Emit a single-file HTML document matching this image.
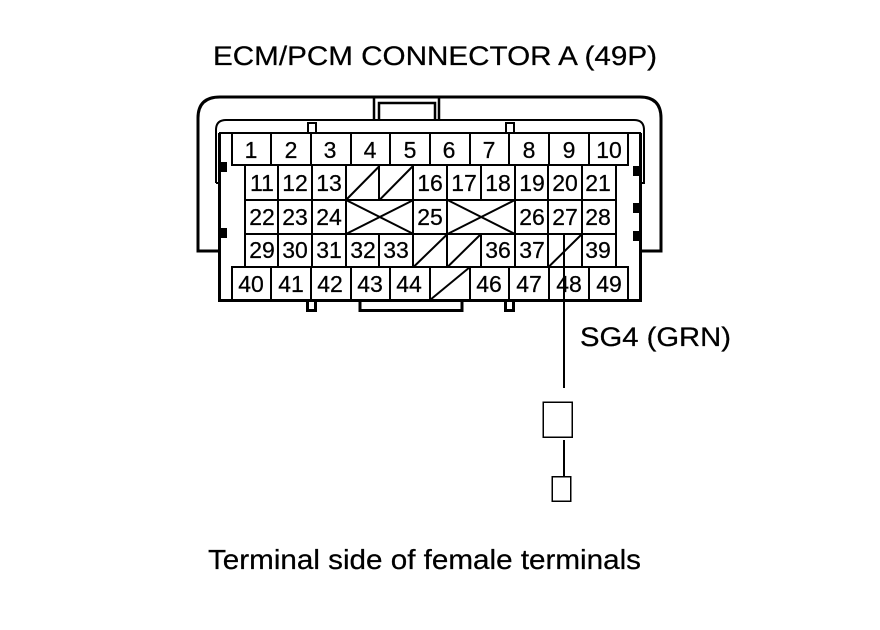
<!DOCTYPE html>
<html><head><meta charset="utf-8"><style>
html,body{margin:0;padding:0;background:#fff}
svg{display:block}
text{font-family:"Liberation Sans",sans-serif;fill:#000;stroke:#000;stroke-width:.25px}
.c{font-size:23px;text-anchor:middle}
.l{shape-rendering:crispEdges}
</style></head><body>
<svg width="880" height="630" viewBox="0 0 880 630" xmlns="http://www.w3.org/2000/svg">
<rect width="880" height="630" fill="#fff"/>
<text x="213" y="65" font-size="27" textLength="444" lengthAdjust="spacingAndGlyphs">ECM/PCM CONNECTOR A (49P)</text>
<!-- outer shell -->
<g fill="none" stroke="#000" stroke-width="3">
<path d="M219 251H198V118Q198 97 220 97H640Q661 97 661 118V251H641"/>
<path d="M219.500 133V300.500H640.500V133" />
<path d="M360 301V310.500H462V301"/>
<path d="M307.500 301V310.500H315.500V301M505.500 301V310.500H513.500V301"/>
</g>
<g fill="none" stroke="#000" stroke-width="2">
<path d="M374 97V119M379 119V103H435V119M439 97V119" stroke-width="2.500"/>
<path d="M216 183V130Q216 120 226 120H634Q644 120 644 130V183H641" stroke-width="2"/>
<path d="M216 183H219" />
<path class="l" d="M308 133V123H316V133M506 133V123H514V133"/>
<path class="l" d="M219 133H641"/>
</g>
<!-- black blocks -->
<g fill="#000">
<rect x="219" y="162" width="8" height="10"/>
<rect x="219" y="228" width="8" height="10"/>
<rect x="633" y="166" width="8" height="10"/>
<rect x="633" y="203" width="8" height="10"/>
<rect x="633" y="231" width="8" height="10"/>
</g>
<!-- grid -->
<g fill="none" stroke="#000" stroke-width="2">
<g class="l">
<rect x="232" y="133" width="396" height="32"/>
<rect x="232" y="267" width="396" height="33"/>
<path d="M271 133V165M311 133V165M351 133V165M390 133V165M430 133V165M470 133V165M509 133V165M549 133V165M589 133V165"/>
<path d="M271 267V300M311 267V300M351 267V300M390 267V300M430 267V300M470 267V300M509 267V300M549 267V300M589 267V300"/>
<path d="M245 165V267M616 165V267"/>
<path d="M245 200H616M245 234H616"/>
<path d="M278 165V267M312 165V267M346 165V267M379 234V267M413 165V267M447 165V267M481 165V200M481 234V267M515 165V267M548 165V267M582 165V267"/>
<path d="M379 165V200"/>
</g>
<!-- diagonals -->
<path d="M346 200L379.500 166M379.500 200L413 166"/>
<path d="M346 200L413.500 234M346 234L413.500 200M447.500 200L515 234M447.500 234L515 200"/>
<path d="M413.500 267L447.500 234M447.500 267L481 234M548.500 267L582 234"/>
<path d="M430 300L470 267"/>
</g>
<!-- cell labels -->
<text class="c" x="251" y="158">1</text><text class="c" x="291" y="158">2</text><text class="c" x="330" y="158">3</text><text class="c" x="370" y="158">4</text><text class="c" x="410" y="158">5</text><text class="c" x="449" y="158">6</text><text class="c" x="489" y="158">7</text><text class="c" x="529" y="158">8</text><text class="c" x="569" y="158">9</text><text class="c" x="609" y="158">10</text>
<text class="c" x="262" y="191">11</text><text class="c" x="295" y="191">12</text><text class="c" x="329" y="191">13</text><text class="c" x="430" y="191">16</text><text class="c" x="464" y="191">17</text><text class="c" x="498" y="191">18</text><text class="c" x="532" y="191">19</text><text class="c" x="565" y="191">20</text><text class="c" x="598" y="191">21</text>
<text class="c" x="262" y="225">22</text><text class="c" x="295" y="225">23</text><text class="c" x="329" y="225">24</text><text class="c" x="430" y="225">25</text><text class="c" x="532" y="225">26</text><text class="c" x="565" y="225">27</text><text class="c" x="598" y="225">28</text>
<text class="c" x="262" y="258">29</text><text class="c" x="295" y="258">30</text><text class="c" x="329" y="258">31</text><text class="c" x="363" y="258">32</text><text class="c" x="396" y="258">33</text><text class="c" x="498" y="258">36</text><text class="c" x="532" y="258">37</text><text class="c" x="598" y="258">39</text>
<text class="c" x="251" y="292">40</text><text class="c" x="291" y="292">41</text><text class="c" x="330" y="292">42</text><text class="c" x="370" y="292">43</text><text class="c" x="409" y="292">44</text><text class="c" x="489" y="292">46</text><text class="c" x="529" y="292">47</text><text class="c" x="569" y="292">48</text><text class="c" x="609" y="292">49</text>
<!-- wire -->
<g class="l" fill="none" stroke="#000" stroke-width="2">
<path d="M564 234V388M564 440V476"/>
</g>
<rect class="l" x="543" y="402" width="29" height="35" fill="#fff" stroke="#000" stroke-width="1.500"/>
<rect class="l" x="552" y="476.500" width="18.500" height="24.500" fill="#fff" stroke="#000" stroke-width="1.500"/>
<text x="580" y="346" font-size="27" textLength="151" lengthAdjust="spacingAndGlyphs">SG4 (GRN)</text>
<text x="208" y="569" font-size="28" textLength="433" lengthAdjust="spacingAndGlyphs">Terminal side of female terminals</text>
</svg>
</body></html>
